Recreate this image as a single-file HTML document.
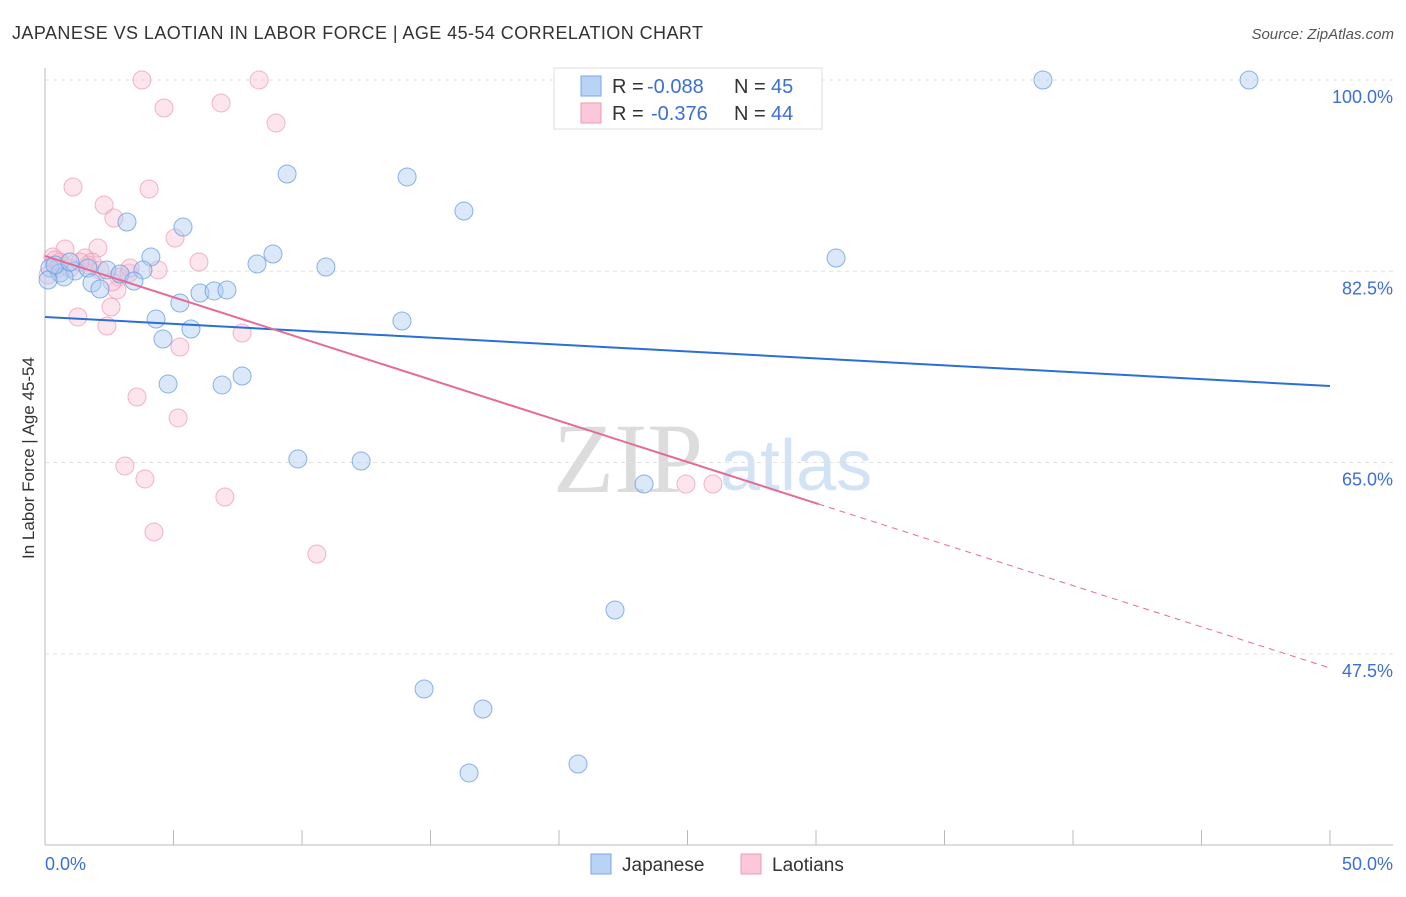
<!DOCTYPE html>
<html><head><meta charset="utf-8"><style>
body{margin:0;background:#fff;font-family:"Liberation Sans",sans-serif;}
</style></head><body>
<svg id="chart" width="1406" height="892" xmlns="http://www.w3.org/2000/svg" font-family="Liberation Sans, sans-serif">
<text x="12" y="39" font-size="18" fill="#333" textLength="691" lengthAdjust="spacing">JAPANESE VS LAOTIAN IN LABOR FORCE | AGE 45-54 CORRELATION CHART</text>
<text x="1394" y="39" font-size="15" fill="#555" font-style="italic" text-anchor="end">Source: ZipAtlas.com</text>
<g>
<text x="553" y="492" font-size="100" fill="#dcdcdc" font-family="Liberation Serif, serif">ZIP</text>
<text x="720" y="490" font-size="72" fill="#d3e3f6">atlas</text>
</g>
<g id="grid"></g><g id="axes"></g><g id="points"></g><g id="lines"></g>
<text transform="translate(34,458) rotate(-90)" font-size="17" fill="#333" text-anchor="middle">In Labor Force | Age 45-54</text>
<g font-size="20">
<rect x="554" y="68" width="268" height="61" fill="#fff" stroke="#ddd"/>
<rect x="581" y="76" width="20" height="20" fill="#b9d3f5" stroke="#7aa6e6"/>
<rect x="581" y="103" width="20" height="20" fill="#fbc8d8" stroke="#ec9ab4"/>
<text x="612" y="93" fill="#333">R =</text><text x="647" y="93" fill="#3b6fd6">-0.088</text>
<text x="734" y="93" fill="#333">N =</text><text x="771" y="93" fill="#3b6fd6">45</text>
<text x="612" y="120" fill="#333">R =</text><text x="651" y="120" fill="#3b6fd6">-0.376</text>
<text x="734" y="120" fill="#333">N =</text><text x="771" y="120" fill="#3b6fd6">44</text>
</g>
<g>
<rect x="591" y="854" width="20" height="20" fill="#b9d3f5" stroke="#7aa6e6"/>
<text x="622" y="871" font-size="19" fill="#333">Japanese</text>
<rect x="741" y="854" width="20" height="20" fill="#fbc8d8" stroke="#ec9ab4"/>
<text x="772" y="871" font-size="19" fill="#333">Laotians</text>
</g>
</svg>
<script>
const xTicks=[0,5,10,15,20,25,30,35,40,45,50];
const yTicks=[100,82.5,65,47.5];
const yTickLabels=["100.0%","82.5%","65.0%","47.5%"];
const japX=[38.83,46.85,9.42,14.09,16.30,3.19,5.37,4.12,8.87,8.25,10.93,30.78,0.19,0.58,1.17,1.67,2.41,2.92,3.81,0.74,1.83,2.14,3.46,5.25,6.03,6.58,7.08,4.32,5.68,4.59,13.89,4.79,6.89,7.67,9.84,12.30,23.31,22.18,14.75,17.04,16.50,20.74,0.12,0.39,0.97];
const japY=[100,100,91.40,91.13,88.01,87.01,86.55,83.81,84.08,83.17,82.89,83.71,82.80,82.34,82.53,82.80,82.62,82.25,82.62,81.98,81.43,80.88,81.61,79.60,80.51,80.70,80.79,78.13,77.22,76.30,77.95,72.19,72.10,72.92,65.33,65.14,63.04,51.51,44.28,42.45,36.60,37.42,81.70,83.07,83.35];
const laoX=[3.77,8.33,4.63,6.85,8.99,1.09,4.05,2.30,2.68,5.06,0.78,2.06,5.99,4.40,0.31,0.58,1.56,1.83,2.88,2.80,3.27,2.57,1.28,2.41,5.25,7.67,3.58,5.18,3.11,3.89,7.00,4.24,10.58,24.94,25.99,0.12,0.51,1.67,2.14,0.97,2.61,0.39,1.36,3.31];
const laoY=[100,100,97.44,97.90,96.07,90.21,90.03,88.56,87.37,85.54,84.54,84.63,83.35,82.62,83.81,83.35,83.71,83.35,81.98,80.79,82.34,79.23,78.32,77.49,75.57,76.85,71.00,69.08,64.69,63.50,61.85,58.65,56.63,63.04,63.04,82.16,82.80,83.07,82.62,82.80,81.52,83.53,83.35,82.80];
const japTrend=[78.32,72.0];
const laoTrend=[83.9,46.2];
const laoSolidEnd=30.1;

const NS="http://www.w3.org/2000/svg";
const X=v=>45+v*25.7;
const Y=v=>80+(100-v)*10.93;
function mk(tag,attrs,parent){const e=document.createElementNS(NS,tag);for(const k in attrs)e.setAttribute(k,attrs[k]);document.getElementById(parent).appendChild(e);return e;}
yTicks.forEach((t,i)=>{
 const g=mk('line',{x1:45,x2:1393,y1:Y(t),y2:Y(t),stroke:'#e2e2e2','stroke-dasharray':'4,4'},'grid');
 
 
 const l=mk('text',{x:1393,y:Y(t)+23,'font-size':18,fill:'#3b6fd6','text-anchor':'end'},'grid');
 l.textContent=yTickLabels[i];
 
 
});
const ax=mk('line',{x1:45,x2:45,y1:68,y2:845,stroke:'#bbb'},'axes');


const bx=mk('line',{x1:45,x2:1393,y1:845,y2:845,stroke:'#bbb'},'axes');


xTicks.forEach(t=>{
 const tk=mk('line',{x1:X(t),x2:X(t),y1:830,y2:845,stroke:'#bbb'},'axes');
 
 
});
const xl0=mk('text',{x:45,y:870,'font-size':18,fill:'#3b6fd6'},'axes');xl0.textContent=xTicks[0].toFixed(1)+'%';


const xl1=mk('text',{x:1393,y:870,'font-size':18,fill:'#3b6fd6','text-anchor':'end'},'axes');xl1.textContent=xTicks[xTicks.length-1].toFixed(1)+'%';


laoX.forEach((x,i)=>{
 const c=mk('circle',{cx:X(x),cy:Y(laoY[i]),r:9,fill:'rgba(250,190,210,0.4)',stroke:'rgba(236,150,180,0.7)','stroke-width':1},'points');
 
 
});
japX.forEach((x,i)=>{
 const c=mk('circle',{cx:X(x),cy:Y(japY[i]),r:9,fill:'rgba(175,205,242,0.45)',stroke:'rgba(100,155,225,0.75)','stroke-width':1},'points');
 
 
});
const bl=mk('line',{x1:X(0),y1:Y(japTrend[0]),x2:X(50),y2:Y(japTrend[1]),stroke:'#2a6fd6','stroke-width':2},'lines');


const ly=x=>laoTrend[0]+(laoTrend[1]-laoTrend[0])*x/50;
const pl=mk('line',{x1:X(0),y1:Y(laoTrend[0]),x2:X(laoSolidEnd),y2:Y(ly(laoSolidEnd)),stroke:'#e56b95','stroke-width':2},'lines');


const pd=mk('line',{x1:X(laoSolidEnd),y1:Y(ly(laoSolidEnd)),x2:X(50),y2:Y(laoTrend[1]),stroke:'#e56b95','stroke-width':1,'stroke-dasharray':'6,5'},'lines');


</script>
</body></html>
